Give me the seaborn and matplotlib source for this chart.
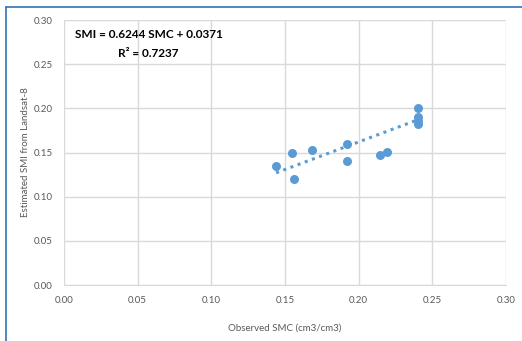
import matplotlib
matplotlib.use("Agg")
import matplotlib.pyplot as plt
import seaborn as sns
import pandas as pd
import numpy as np

# observed vs estimated
smc_obs = [0.144, 0.1546, 0.1563, 0.168, 0.1923, 0.1923, 0.2145, 0.2193, 0.2405, 0.2405, 0.2405, 0.2405]
smi_est = [0.135, 0.149, 0.120, 0.153, 0.160, 0.140, 0.147, 0.151, 0.200, 0.190, 0.186, 0.182]
slope = 0.6244
intercept = 0.0371
ticks = [0.00, 0.05, 0.10, 0.15, 0.20, 0.25, 0.30]

df = pd.DataFrame({"SMC": smc_obs, "SMI": smi_est})

sns.set_style("white")
plt.rcParams['font.family'] = ['Lato', 'DejaVu Sans']

fig = plt.figure(figsize=(5.22, 3.41), dpi=100)
ax = fig.add_axes([0.1226, 0.1642, 0.8467, 0.7771])

blue = "#5B9BD5"
sns.scatterplot(x="SMC", y="SMI", data=df, ax=ax, color=blue, s=42, edgecolor=blue, linewidth=0, zorder=3)

xs = np.array([min(smc_obs), max(smc_obs)])
ax.plot(xs, slope * xs + intercept, linestyle=(0, (1, 1.5)), color=blue, linewidth=2.2, zorder=2)

ax.set_xlim(0, 0.30)
ax.set_ylim(0, 0.30)
ax.set_xticks(ticks)
ax.set_yticks(ticks)
ax.set_xticklabels([f"{t:.2f}" for t in ticks])
ax.set_yticklabels([f"{t:.2f}" for t in ticks])
ax.tick_params(axis='both', labelsize=7, colors="#595959", length=0, pad=8)
ax.grid(True, color="#D9D9D9", linewidth=1)
ax.set_axisbelow(True)
for s in ["top", "right", "left"]:
    ax.spines[s].set_visible(False)
ax.spines["bottom"].set_color("#D9D9D9")

ax.set_xlabel("Observed SMC (cm3/cm3)", fontsize=7, color="#595959", labelpad=13)
ax.set_ylabel("Estimated SMI from Landsat-8", fontsize=7, color="#595959", labelpad=3)

ax.text(0.025, 0.945, "SMI = 0.6244 SMC + 0.0371", transform=ax.transAxes,
        fontsize=8.5, fontweight="bold", ha="left", va="center", color="black")
ax.text(0.19, 0.875, "R² = 0.7237", transform=ax.transAxes,
        fontsize=8.5, fontweight="bold", ha="center", va="center", color="black")

# blue frame on left and top
fig.add_artist(plt.Line2D([6/522, 6/522], [0, 1 - 7/341], color="#2E75B6", linewidth=1.2))
fig.add_artist(plt.Line2D([6/522, 1], [1 - 7/341, 1 - 7/341], color="#2E75B6", linewidth=1.2))

fig.savefig("out.png", dpi=100)
